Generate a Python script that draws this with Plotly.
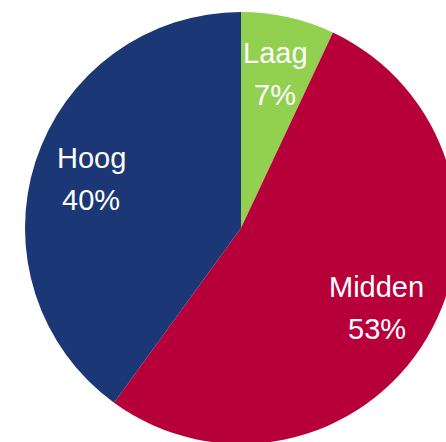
import math
import plotly.graph_objects as go

# ── data ──────────────────────────────────────────────────────────────────────
labels = ["Laag", "Midden", "Hoog"]
values = [7, 53, 40]
colors = ["#92D050", "#B7003A", "#1C3775"]

W, H = 482, 456
RADIUS = 216          # pie radius in px (domain height 432)
LABEL_R = 0.73        # label distance as fraction of radius
LINE_GAP = 21         # half the baseline distance between the two label lines

_FONT = dict(family="Liberation Sans, Arial, sans-serif", size=29, color="#ffffff")

fig = go.Figure()

fig.add_trace(go.Pie(
    labels=labels,
    values=values,
    sort=False,
    direction="clockwise",
    rotation=0,
    marker=dict(colors=colors, line=dict(width=0)),
    textinfo="none",
    hoverinfo="label+percent",
    domain=dict(x=[0, 1], y=[12 / H, 444 / H]),
))

# labels at the middle angle of each slice (clockwise from 12 o'clock)
total = sum(values)
start = 0.0
for lab, val in zip(labels, values):
    mid = (start + val / 2) / total * 2 * math.pi
    start += val
    x = 0.5 + LABEL_R * RADIUS * math.sin(mid) / W
    y = 0.5 + LABEL_R * RADIUS * math.cos(mid) / H
    for txt, shift in ((lab, LINE_GAP), (f"{val}%", -LINE_GAP)):
        fig.add_annotation(
            x=x, y=y, xref="paper", yref="paper",
            text=txt, showarrow=False,
            xanchor="center", yanchor="middle",
            yshift=shift,
            font=_FONT,
        )

fig.update_layout(
    width=W,
    height=H,
    margin=dict(l=0, r=0, t=0, b=0),
    paper_bgcolor="#ffffff",
    plot_bgcolor="#ffffff",
    showlegend=False,
)

fig.write_html(
    "out.html",
    config={"displayModeBar": False},
    post_script="document.body.style.margin='0';document.body.style.overflow='hidden';",
)
